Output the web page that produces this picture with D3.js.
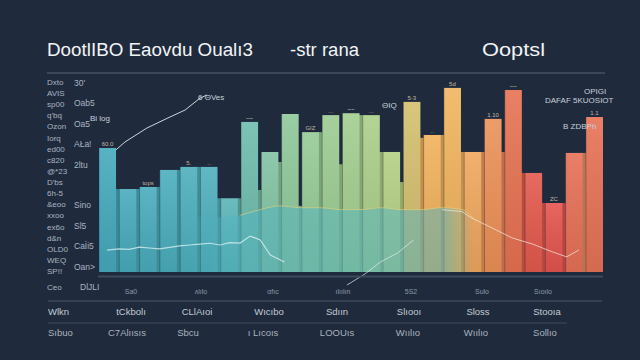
<!DOCTYPE html>
<html><head><meta charset="utf-8">
<script src="https://cdn.jsdelivr.net/npm/d3@7/dist/d3.min.js"></script>
<style>html,body{margin:0;padding:0;background:#1f2b3d;}svg{display:block;}</style>
</head><body>
<script>
// ---- data ----
const titleParts = ["DootlIBO  Eaovdu  Oualı3", "-str rana", "Ooptsl"];
const barCats = ["b01","b02","b03","b04","b05","b06","b07","b08","b09","b10","b11","b12","b13","b14","b15","b16","b17","b18","b19","b20","b21","b22","b23","b24","b25"];
const barValues = [65.6,43.9,45,54,55.6,55.6,39,79.4,63.5,83.6,74,83,84,83,63.5,90,72.5,97.4,63.5,81,96.3,52.4,36.5,63,82];
// back bars sitting in the gaps between neighbouring front bars
const gapValues = [43.9,43.9,45,54,55.6,39,39,43.4,58.2,35,74,57,83,63.5,47.6,71,72.5,63.5,63.5,63.5,52.4,36.5,36.5,63];
const barTopLabels = ["60.0","","tops","","5.","..","","~~","","","GIZ","...","~~","...","","5-3","..","5d","","1.10","~~","","ZC","","1.1"];
// translucent teal band at the foot of the bars
const areaPos = [0,2,4,6,7,8,9,10,11,12,13,14,15,16,17,18,18.6];
const areaValues = [29,29,29,29,30,33,35,34,34,33,33,34,33,33,34,33,28];
// lines
const risePos = [0.84,1.29,2.38,3.42,4.27,5.01,5.36];
const riseValues = [64.6,68.8,76.2,81.5,85.7,92,93.7];
const lowPos = [0.4,1,1.5,2,2.5,3,3.5,4,4.5,5,5.5,6,6.5,7,7.5,8,8.5,9.2];
const lowValues = [11.6,12.2,12.0,13.2,12.7,12.2,13.0,13.8,14.3,14.8,15.2,14.3,15.5,15.3,19,17,9,5.3];
const fallPos = [17,18,18.5,19.5,20.5,21.5,22.5,23.2,23.8];
const fallValues = [33,32,28.5,23.3,18,14.8,10.6,8,11.6];
const crossPos = [12.3,13.2,13.96,14.8,15.6];
const crossValues = [-6.9,-1,5.3,10,16.9];
// left-hand label columns
const leftCol1 = ["Dxto","AVIS","sp00","q'bq","Ozon","Iorq","ed00","c820","@*23","D'bs","6h-5","&eoo","xxoo","ex6o","d&n","OLD0","WEQ","SP!!","Ceo"];
const leftCol2 = ["30'","Oab5","Oa5","AŁa!","2ltu","Sino","Sl5","Caİi5","Oan>","DlJLI"];
const leftCol2Rows = [0,1,2,3,4,6,7,8,9,10];
// footer rows
const footRow1 = ["Sa0","ʌlılo","ɑfıc","ılıılın","5S2","Sulo","Sıoılo"];
const footRow2 = ["Wlkn","tCkbolı","CLlAıoi","Wıcıbo","Sdıın","Slıooı","Sloss","Stooıa"];
const footRow3 = ["Sıbuo","C7Alıısıs","Sbcu","ı Lıcoıs","LOOUıs","Wıılıo","Wıılıo","Sollıo"];
const noteTexts = ["Bi log","6 ΘVes","OPIGI","DAFAF  5KUOSIOT","B  ZDBPh","ΘIQ"];

// ---- drawing ----
const W = 640, H = 360;
const FN = "Liberation Sans Narrow, Liberation Sans, Arial, sans-serif";
const svg = d3.select("body").append("svg").attr("width", W).attr("height", H);
svg.append("rect").attr("width", W).attr("height", H).attr("fill", "#1f2b3d");

const x0 = 99, x1 = 603, yBase = 272, yTop = 83;
const xBand = d3.scaleBand().domain(barCats).range([x0, x1]).paddingInner(0.16).paddingOuter(0);
const xPos = d3.scaleLinear().domain([0, barCats.length]).range([x0, x1]);
const y = d3.scaleLinear().domain([0, 100]).range([yBase, yTop]);
const colorAt = d3.scaleLinear()
  .domain([0, 6, 9, 13, 15, 16, 18, 19, 20, 21, 23, 24, 25])
  .range(["#45a9bd","#50b1bd","#8cc79c","#a6cf8c","#b9d083","#f1b05a","#f2b561","#ee9a5a","#ea8758","#e45c4d","#e45350","#ea8f60","#e4574b"])
  .interpolate(d3.interpolateRgb);

const defs = svg.append("defs");
const shade = defs.append("linearGradient").attr("id","shade").attr("x1",0).attr("x2",0).attr("y1",0).attr("y2",1);
shade.append("stop").attr("offset","0%").attr("stop-color","#ffffff").attr("stop-opacity",0.10);
shade.append("stop").attr("offset","100%").attr("stop-color","#000000").attr("stop-opacity",0.08);

// back bars
svg.append("g").selectAll("rect").data(gapValues).join("rect")
  .attr("x", (d,i) => xBand(barCats[i]) + xBand.bandwidth() - 1)
  .attr("width", xBand.step() - xBand.bandwidth() + 2)
  .attr("y", d => y(d)).attr("height", d => yBase - y(d))
  .attr("fill", (d,i) => d3.color(colorAt(i + 1)).darker(0.6));

// front bars
const gBars = svg.append("g");
gBars.selectAll("rect.bar").data(barValues).join("rect").attr("class","bar")
  .attr("x", (d,i) => xBand(barCats[i])).attr("width", xBand.bandwidth())
  .attr("y", d => y(d)).attr("height", d => yBase - y(d))
  .attr("fill", (d,i) => colorAt(i + 0.5));
gBars.selectAll("rect.sh").data(barValues).join("rect").attr("class","sh")
  .attr("x", (d,i) => xBand(barCats[i])).attr("width", xBand.bandwidth())
  .attr("y", d => y(d)).attr("height", d => yBase - y(d))
  .attr("fill", "url(#shade)");
gBars.selectAll("line.sep").data(barValues).join("line").attr("class","sep")
  .attr("x1", (d,i) => xBand(barCats[i])).attr("x2", (d,i) => xBand(barCats[i]))
  .attr("y1", d => y(d)).attr("y2", yBase)
  .attr("stroke", "#1f2b3d").attr("stroke-opacity", 0.35).attr("stroke-width", 1);

// teal band
const areaGen = d3.area().x(d => xPos(d[0])).y0(yBase).y1(d => y(d[1])).curve(d3.curveMonotoneX);
const areaData = areaPos.map((p,i) => [p, areaValues[i]]);
const fade = defs.append("linearGradient").attr("id","fade").attr("gradientUnits","userSpaceOnUse")
  .attr("x1", xPos(0)).attr("x2", xPos(18.6)).attr("y1",0).attr("y2",0);
[[0,0],[4,0],[7,0.5],[17.2,0.5],[18.6,0]].forEach(s => {
  fade.append("stop").attr("offset", (s[0]/18.6*100) + "%").attr("stop-color","#4fb4c4").attr("stop-opacity", s[1]);
});
svg.append("path").datum(areaData).attr("d", areaGen).attr("fill", "url(#fade)");
svg.append("path").datum(areaData.filter(d => d[0] >= 7))
  .attr("d", d3.line().x(d => xPos(d[0])).y(d => y(d[1])).curve(d3.curveMonotoneX))
  .attr("fill","none").attr("stroke","#e9d27a").attr("stroke-opacity",0.6).attr("stroke-width",1);

// lines
const lineGen = d3.line().x(d => xPos(d[0])).y(d => y(d[1]));
function drawLine(pos, vals, col, w, op) {
  svg.append("path").datum(pos.map((p,i) => [p, vals[i]]))
    .attr("d", lineGen).attr("fill","none").attr("stroke",col).attr("stroke-width",w).attr("stroke-opacity",op);
}
drawLine(risePos, riseValues, "#dfe6ee", 1, 0.9);
drawLine(lowPos, lowValues, "#dff4f6", 1.2, 0.75);
drawLine(fallPos, fallValues, "#f3e6d8", 1, 0.75);
drawLine(crossPos, crossValues, "#e0eef2", 1, 0.7);

// bar top tiny labels
svg.append("g").selectAll("text").data(barValues).join("text")
  .attr("x", (d,i) => xBand(barCats[i]) + xBand.bandwidth()/2).attr("y", d => y(d) - 2)
  .attr("text-anchor","middle").attr("font-family", FN)
  .attr("font-size", 6).attr("fill","#e8dcc0").attr("fill-opacity",0.8)
  .text((d,i) => barTopLabels[i]);

// rules
const rule = (xa, xb, yy, col, w) => svg.append("line").attr("x1",xa).attr("x2",xb).attr("y1",yy).attr("y2",yy).attr("stroke",col).attr("stroke-width",w);
rule(47, 605, 73, "#56647a", 1.2);
rule(98, 603, 276.5, "#3c4a60", 2);
rule(48, 602, 301, "#4d5a70", 1);
rule(48, 567, 323, "#3f4c62", 1);

// title
const titleX = [47, 290, 482], titleW = [206, 69, 63];
svg.append("g").selectAll("text").data(titleParts).join("text")
  .attr("x", (d,i) => titleX[i]).attr("y", 56)
  .attr("font-family", FN).attr("font-size",18)
  .attr("fill","#f2f4f6")
  .attr("textLength", (d,i) => titleW[i]).attr("lengthAdjust","spacingAndGlyphs")
  .text(d => d);

// left columns
const rowY = d3.scaleLinear().domain([0, 17]).range([85, 274]);
svg.append("g").selectAll("text").data(leftCol1).join("text")
  .attr("x", 47).attr("y", (d,i) => i === 18 ? 290 : rowY(i))
  .attr("font-family", FN).attr("font-size",8)
  .attr("fill","#aab4c2").text(d => d);
const rowY2 = d3.scaleLinear().domain([0, 10]).range([86, 290]);
svg.append("g").selectAll("text").data(leftCol2).join("text")
  .attr("x", (d,i) => i === 9 ? 80 : 74).attr("y", (d,i) => rowY2(leftCol2Rows[i]))
  .attr("font-family", FN).attr("font-size",8.5)
  .attr("fill","#aab4c2").text(d => d);

// notes
const noteX = [90, 198, 584, 545, 563, 382], noteY = [121, 100, 94, 103, 129, 108];
svg.append("g").selectAll("text").data(noteTexts).join("text")
  .attr("x", (d,i) => noteX[i]).attr("y", (d,i) => noteY[i])
  .attr("font-family", FN).attr("font-size",8)
  .attr("fill","#c9d0da").text(d => d);

// footer
const foot1X = [131,201,273,343,411,482,543];
const foot2X = [48,131,197,269,337,409,478,547];
const foot3X = [48,127,188,263,337,408,476,545];
svg.append("g").selectAll("text").data(footRow1).join("text")
  .attr("x",(d,i)=>foot1X[i]).attr("y",294).attr("text-anchor","middle")
  .attr("font-family", FN).attr("font-size",7)
  .attr("fill","#8e99a8").text(d=>d);
svg.append("g").selectAll("text").data(footRow2).join("text")
  .attr("x",(d,i)=>foot2X[i]).attr("y",315).attr("text-anchor",(d,i)=> i===0?"start":"middle")
  .attr("font-family", FN).attr("font-size",9.5)
  .attr("fill","#c3cad4").text(d=>d);
svg.append("g").selectAll("text").data(footRow3).join("text")
  .attr("x",(d,i)=>foot3X[i]).attr("y",336).attr("text-anchor",(d,i)=> i===0?"start":"middle")
  .attr("font-family", FN).attr("font-size",9.5)
  .attr("fill","#a9b2be").text(d=>d);
</script>
</body></html>
